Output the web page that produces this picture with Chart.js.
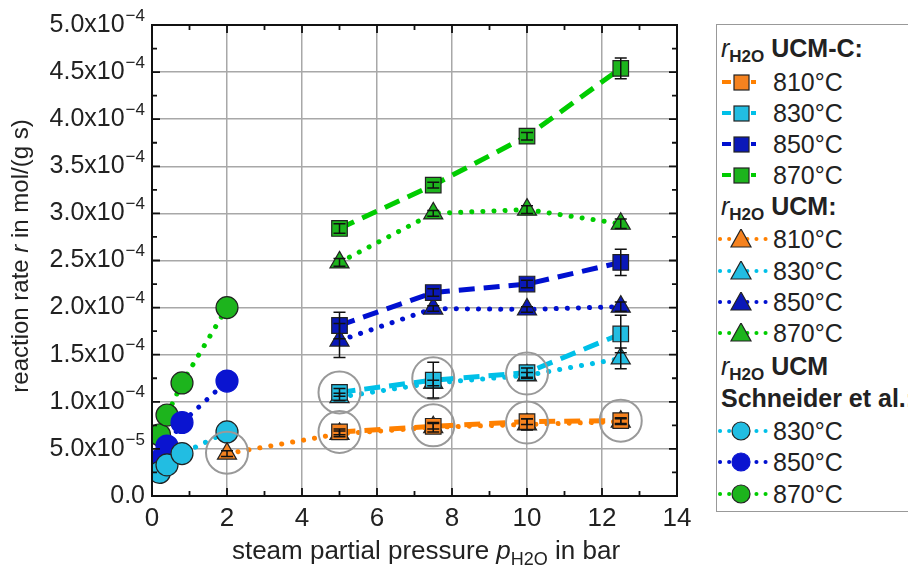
<!DOCTYPE html>
<html>
<head>
<meta charset="utf-8">
<script src="https://cdn.jsdelivr.net/npm/chart.js@4.4.0/dist/chart.umd.min.js"></script>
<style>
body { margin: 0; background: #fff; width: 908px; height: 570px; overflow: hidden; position: relative; font-family: "Liberation Sans", Arial, sans-serif; }
#wrap { position: absolute; left: 0; top: 0; width: 700px; height: 570px; }
#legend { position: absolute; left: 716px; top: 24px; width: 240px; height: 486px; border: 1.5px solid #999; border-right: none; }
.row { position: absolute; left: 0; height: 30px; line-height: 30px; font-size: 25px; color: #222; white-space: nowrap; }
.row svg { position: absolute; left: 1px; top: 5px; }
.row .lbl { position: absolute; left: 56px; }
.head { font-weight: bold; left: 4px; }
.head i { font-weight: normal; }
.head sub { font-size: 17px; vertical-align: -5px; }
</style>
</head>
<body>
<div id="wrap"><canvas id="chart" width="700" height="570"></canvas></div>
<div id="legend"></div>
<script>
// Data (rate in mol/(g s), pressure in bar)
const temps = ['810°C', '830°C', '850°C', '870°C'];

const pUcmc = [5, 7.5, 10, 12.5];
const rUcmc810 = [6.8e-5, 7.4e-5, 7.9e-5, 8.0e-5];
const rUcmc830 = [1.10e-4, 1.23e-4, 1.31e-4, 1.72e-4];
const rUcmc850 = [1.81e-4, 2.16e-4, 2.25e-4, 2.48e-4];
const rUcmc870 = [2.84e-4, 3.30e-4, 3.82e-4, 4.54e-4];
const eUcmc810 = [3e-6, 3e-6, 3e-6, 3e-6];
const eUcmc830 = [4e-6, 1.9e-5, 5e-6, 2.0e-5];
const eUcmc850 = [1.4e-5, 4e-6, 4e-6, 1.4e-5];
const eUcmc870 = [5e-6, 3e-6, 4e-6, 1.1e-5];

const pUcm810 = [2, 5, 7.5, 10, 12.5];
const pUcm = [5, 7.5, 10, 12.5];
const rUcm810 = [4.5e-5, 6.6e-5, 7.3e-5, 7.6e-5, 7.9e-5];
const rUcm830 = [1.05e-4, 1.20e-4, 1.28e-4, 1.46e-4];
const rUcm850 = [1.65e-4, 1.99e-4, 1.98e-4, 2.01e-4];
const rUcm870 = [2.48e-4, 3.00e-4, 3.04e-4, 2.89e-4];
const eUcm810 = [3e-6, 3e-6, 5e-6, 6e-6, 3e-6];
const eUcm830 = [4e-6, 3e-6, 3e-6, 1.1e-5];
const eUcm850 = [1.8e-5, 3e-6, 3e-6, 5e-6];
const eUcm870 = [4e-6, 3e-6, 4e-6, 5e-6];

const pSchneider = [0.2, 0.4, 0.8, 2];
const rSch830 = [2.5e-5, 3.3e-5, 4.5e-5, 6.8e-5];
const rSch850 = [3.8e-5, 5.3e-5, 7.8e-5, 1.22e-4];
const rSch870 = [6.5e-5, 8.6e-5, 1.20e-4, 2.0e-4];

// grey rings marking the compared points
const ringP = [2, 5, 7.5, 10, 12.5, 5, 7.5, 10];
const ringR = [4.6e-5, 6.8e-5, 7.5e-5, 7.8e-5, 8.0e-5, 1.10e-4, 1.25e-4, 1.30e-4];

const xTicks = [0, 2, 4, 6, 8, 10, 12, 14];
const yTickLabels = [['0.0', ''], ['5.0x10', '−5'], ['1.0x10', '−4'], ['1.5x10', '−4'], ['2.0x10', '−4'],
  ['2.5x10', '−4'], ['3.0x10', '−4'], ['3.5x10', '−4'], ['4.0x10', '−4'], ['4.5x10', '−4'], ['5.0x10', '−4']];

const colors = {
  orange: { line: '#ff8000', fill: '#f5821f' },
  cyan: { line: '#00c0e8', fill: '#22bde2' },
  blue: { line: '#0010d0', fill: '#0a18b8' },
  green: { line: '#00cc00', fill: '#1db41d' }
};
const FONT = '"Liberation Sans", Arial, sans-serif';

function pts(xs, ys) {
  return xs.map((x, i) => ({ x: x, y: ys[i] }));
}

function ucmcSet(label, xs, ys, errs, c) {
  return {
    label: label, data: pts(xs, ys), errors: errs, showLine: true,
    borderColor: c.line, borderWidth: 5, borderDash: [16, 9],
    pointStyle: 'rect', pointRadius: 11, pointBackgroundColor: c.fill,
    pointBorderColor: '#222', pointBorderWidth: 1.2, order: 1
  };
}

function ucmSet(label, xs, ys, errs, c) {
  return {
    label: label, data: pts(xs, ys), errors: errs, showLine: true,
    borderColor: c.line, borderWidth: 5, borderDash: [0.1, 11], borderCapStyle: 'round',
    pointStyle: 'triangle', pointRadius: 11, pointBackgroundColor: c.fill,
    pointBorderColor: '#222', pointBorderWidth: 1.2, order: 2
  };
}

function schSet(label, xs, ys, c, border) {
  return {
    label: label, data: pts(xs, ys), showLine: true,
    borderColor: c.line, borderWidth: 5, borderDash: [0.1, 11], borderCapStyle: 'round',
    pointStyle: 'circle', pointRadius: 11, pointBackgroundColor: c.fill,
    pointBorderColor: border, pointBorderWidth: 1.2, order: 3
  };
}

const datasets = [
  {
    label: 'rings', data: pts(ringP, ringR), showLine: false,
    pointStyle: 'circle', pointRadius: 21, pointBackgroundColor: 'rgba(0,0,0,0)',
    pointBorderColor: '#999', pointBorderWidth: 2, order: 0
  },
  ucmcSet('UCM-C 810', pUcmc, rUcmc810, eUcmc810, colors.orange),
  ucmcSet('UCM-C 830', pUcmc, rUcmc830, eUcmc830, colors.cyan),
  ucmcSet('UCM-C 850', pUcmc, rUcmc850, eUcmc850, colors.blue),
  ucmcSet('UCM-C 870', pUcmc, rUcmc870, eUcmc870, colors.green),
  ucmSet('UCM 810', pUcm810, rUcm810, eUcm810, colors.orange),
  ucmSet('UCM 830', pUcm, rUcm830, eUcm830, colors.cyan),
  ucmSet('UCM 850', pUcm, rUcm850, eUcm850, colors.blue),
  ucmSet('UCM 870', pUcm, rUcm870, eUcm870, colors.green),
  schSet('Schneider 830', pSchneider, rSch830, colors.cyan, '#222'),
  schSet('Schneider 850', pSchneider, rSch850, { line: '#0010d0', fill: '#0a14d0' }, '#0a14d0'),
  schSet('Schneider 870', pSchneider, rSch870, colors.green, '#222')
];

// error bars, inward ticks, frame, y tick labels and axis titles
const decorPlugin = {
  id: 'decor',
  afterDatasetsDraw(chart) {
    const ctx = chart.ctx;
    const xs = chart.scales.x, ys = chart.scales.y;
    ctx.save();
    ctx.strokeStyle = '#111';
    ctx.lineWidth = 1.5;
    chart.data.datasets.forEach((ds, i) => {
      if (!ds.errors) return;
      ds.data.forEach((p, j) => {
        const px = xs.getPixelForValue(p.x);
        const y1 = ys.getPixelForValue(p.y + ds.errors[j]);
        const y2 = ys.getPixelForValue(p.y - ds.errors[j]);
        ctx.beginPath();
        ctx.moveTo(px, y1); ctx.lineTo(px, y2);
        ctx.moveTo(px - 6, y1); ctx.lineTo(px + 6, y1);
        ctx.moveTo(px - 6, y2); ctx.lineTo(px + 6, y2);
        ctx.stroke();
      });
    });
    ctx.restore();
  },
  afterDraw(chart) {
    const ctx = chart.ctx;
    const a = chart.chartArea;
    const xs = chart.scales.x, ys = chart.scales.y;
    ctx.save();
    ctx.strokeStyle = '#111';
    ctx.lineWidth = 2;
    ctx.strokeRect(a.left, a.top, a.right - a.left, a.bottom - a.top);
    ctx.lineWidth = 1.8;
    ctx.beginPath();
    for (let v = 0; v <= 14; v++) {
      const px = xs.getPixelForValue(v);
      const len = v % 2 === 0 ? 8 : 5;
      ctx.moveTo(px, a.bottom); ctx.lineTo(px, a.bottom - len);
      ctx.moveTo(px, a.top); ctx.lineTo(px, a.top + len);
    }
    for (let k = 0; k <= 20; k++) {
      const py = ys.getPixelForValue(k * 2.5e-5);
      const len = k % 2 === 0 ? 8 : 5;
      ctx.moveTo(a.left, py); ctx.lineTo(a.left + len, py);
      ctx.moveTo(a.right, py); ctx.lineTo(a.right - len, py);
    }
    ctx.stroke();

    // y tick labels with superscript exponent
    ctx.fillStyle = '#222';
    ctx.textBaseline = 'middle';
    yTickLabels.forEach((lab, k) => {
      const py = ys.getPixelForValue(k * 5e-5);
      ctx.font = '17px ' + FONT;
      const ew = lab[1] ? ctx.measureText(lab[1]).width : 0;
      const right = a.left - 7;
      ctx.textAlign = 'left';
      ctx.fillText(lab[1], right - ew, py - 9);
      ctx.font = '25px ' + FONT;
      ctx.textAlign = 'right';
      ctx.fillText(lab[0], right - ew - (lab[1] ? 1 : 0), py);
    });

    // axis titles
    const drawParts = (parts, cx, cy) => {
      let total = 0;
      parts.forEach(p => { ctx.font = p.f; p.w = ctx.measureText(p.t).width; total += p.w; });
      let x = cx - total / 2;
      ctx.textAlign = 'left';
      ctx.textBaseline = 'alphabetic';
      parts.forEach(p => { ctx.font = p.f; ctx.fillText(p.t, x, cy + (p.dy || 0)); x += p.w; });
    };
    ctx.fillStyle = '#222';
    drawParts([
      { t: 'steam partial pressure ', f: '26px ' + FONT },
      { t: 'p', f: 'italic 26px ' + FONT },
      { t: 'H2O', f: '18px ' + FONT, dy: 6 },
      { t: ' in bar', f: '26px ' + FONT }
    ], 426, 559);
    ctx.save();
    ctx.translate(28, 256);
    ctx.rotate(-Math.PI / 2);
    drawParts([
      { t: 'reaction rate ', f: '24px ' + FONT },
      { t: 'r', f: 'italic 24px ' + FONT },
      { t: ' in mol/(g s)', f: '24px ' + FONT }
    ], 0, 0);
    ctx.restore();
    ctx.restore();
  }
};

new Chart(document.getElementById('chart'), {
  type: 'scatter',
  data: { datasets: datasets },
  options: {
    responsive: false,
    animation: false,
    layout: { padding: { top: 25, right: 14, left: 0, bottom: 0 } },
    plugins: { legend: { display: false }, tooltip: { enabled: false } },
    scales: {
      x: {
        type: 'linear', min: 0, max: 14,
        afterBuildTicks: s => { s.ticks = xTicks.map(v => ({ value: v })); },
        afterFit: s => { s.height = 74; },
        grid: { color: '#a8a8a8', lineWidth: 1.5, drawTicks: false },
        border: { display: true, color: '#111', width: 2 },
        ticks: { padding: 7, color: '#222', font: { size: 26, family: FONT } }
      },
      y: {
        type: 'linear', min: 0, max: 5e-4,
        afterBuildTicks: s => { s.ticks = yTickLabels.map((l, k) => ({ value: k * 5e-5 })); },
        afterFit: s => { s.width = 152; },
        grid: { color: '#a8a8a8', lineWidth: 1.5, drawTicks: false },
        border: { display: true, color: '#111', width: 2 },
        ticks: { display: false }
      }
    }
  },
  plugins: [decorPlugin]
});

// legend (HTML, so the subscripts and italics come out right)
const legend = document.getElementById('legend');
function marker(style, c, shape, border) {
  const dash = style === 'dash' ? 'stroke-dasharray="9 20" stroke-dashoffset="-2"' : 'stroke-dasharray="0.1 9" stroke-linecap="round"';
  let m = '';
  if (shape === 'rect') m = `<rect x="16" y="3" width="15" height="15" fill="${c.fill}" stroke="#222" stroke-width="1.2"/>`;
  if (shape === 'tri') m = `<polygon points="23,0 33,18 13,18" fill="${c.fill}" stroke="#222" stroke-width="1.2"/>`;
  if (shape === 'circle') m = `<circle cx="23" cy="10" r="9" fill="${c.fill}" stroke="${border}" stroke-width="1.2"/>`;
  const x2 = style === 'dash' ? 38 : 48;
  return `<svg width="50" height="20"><line x1="2" y1="10" x2="${x2}" y2="10" stroke="${c.line}" stroke-width="4" ${dash}/>${m}</svg>`;
}
const legendRows = [
  { head: '<i>r</i><sub>H2O</sub> UCM-C:', top: 8 },
  { m: marker('dash', colors.orange, 'rect'), t: temps[0], top: 42 },
  { m: marker('dash', colors.cyan, 'rect'), t: temps[1], top: 73 },
  { m: marker('dash', colors.blue, 'rect'), t: temps[2], top: 104 },
  { m: marker('dash', colors.green, 'rect'), t: temps[3], top: 135 },
  { head: '<i>r</i><sub>H2O</sub> UCM:', top: 166 },
  { m: marker('dot', colors.orange, 'tri'), t: temps[0], top: 199 },
  { m: marker('dot', colors.cyan, 'tri'), t: temps[1], top: 231 },
  { m: marker('dot', colors.blue, 'tri'), t: temps[2], top: 262 },
  { m: marker('dot', colors.green, 'tri'), t: temps[3], top: 293 },
  { head: '<i>r</i><sub>H2O</sub> UCM', top: 326 },
  { head: 'Schneider et al.:', top: 358 },
  { m: marker('dot', colors.cyan, 'circle', '#222'), t: temps[1], top: 391 },
  { m: marker('dot', { line: '#0010d0', fill: '#0a14d0' }, 'circle', '#0a14d0'), t: temps[2], top: 422 },
  { m: marker('dot', colors.green, 'circle', '#222'), t: temps[3], top: 454 }
];
legendRows.forEach(r => {
  const div = document.createElement('div');
  div.className = r.head ? 'row head' : 'row';
  div.style.top = r.top + 'px';
  div.innerHTML = r.head ? r.head : r.m + '<span class="lbl">' + r.t + '</span>';
  legend.appendChild(div);
});
</script>
</body>
</html>
